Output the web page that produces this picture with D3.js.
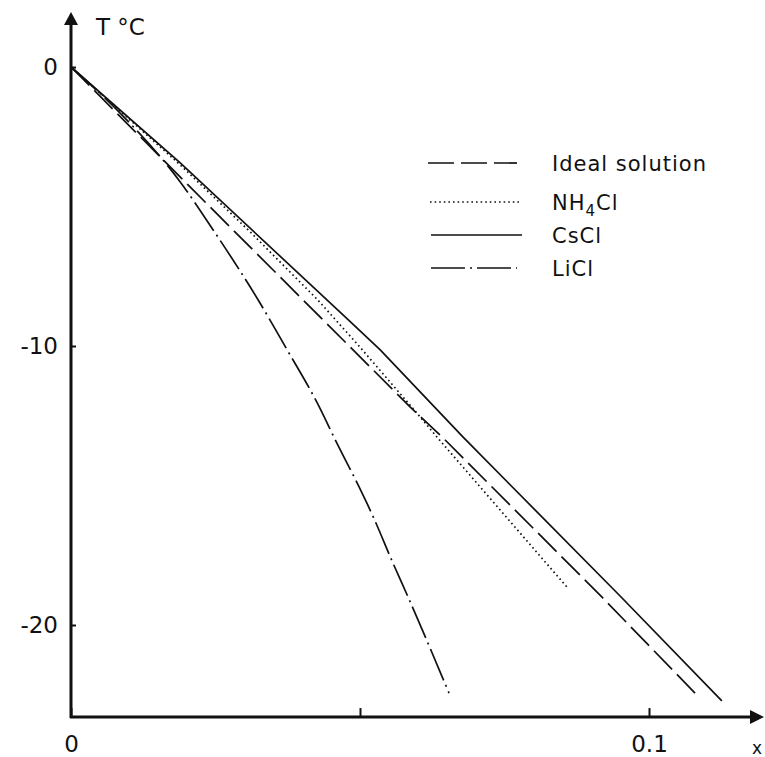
<!DOCTYPE html>
<html><head><meta charset="utf-8">
<script src="https://cdn.jsdelivr.net/npm/d3@7"></script>
<style>
body{margin:0;background:#fff}
svg{display:block}
text{font-family:"DejaVu Sans",sans-serif;fill:#111}
</style>
</head><body>
<svg id="c" width="765" height="757"></svg>
<script>
// ---- data ----
const xTicks = [0, 0.05, 0.1];
const xTickLabels = ["0", "", "0.1"];
const yTicks = [0, -10, -20];
const yTickLabels = ["0", "-10", "-20"];

const idealX = [0, 0.0206, 0.0488, 0.0587, 0.0644, 0.0920, 0.1088];
const idealT = [0, -4.30, -10.14, -12.19, -13.30, -19.03, -22.62];

const nh4clX = [0, 0.0189, 0.0310, 0.0427, 0.0500, 0.0604, 0.0633, 0.0858];
const nh4clT = [0, -3.51, -5.91, -8.35, -10.04, -12.54, -13.26, -18.64];

const csclX = [0, 0.0189, 0.0478, 0.0535, 0.0678, 0.0950, 0.1126];
const csclT = [0, -3.44, -9.03, -10.14, -13.26, -18.96, -22.72];

const liclX = [0, 0.0085, 0.0189, 0.0246, 0.0327, 0.0374, 0.0426, 0.0460, 0.0495, 0.0523, 0.0557, 0.0583, 0.0654];
const liclT = [0, -1.65, -4.12, -5.84, -8.46, -10.14, -12.04, -13.48, -14.91, -16.13, -17.78, -18.99, -22.44];

const seriesNames = ["Ideal solution", "NH4Cl", "CsCl", "LiCl"];

// ---- drawing ----
const svg = d3.select("#c");
const x = d3.scaleLinear().domain([0, 0.1]).range([71, 649]);
const y = d3.scaleLinear().domain([0, -20]).range([67, 625]);
const ink = "#111";

const series = [
  {name: seriesNames[0], xs: idealX, ts: idealT, dash: "26,7", curve: d3.curveLinear},
  {name: seriesNames[1], xs: nh4clX, ts: nh4clT, dash: "1.6,3", curve: d3.curveLinear},
  {name: seriesNames[2], xs: csclX, ts: csclT, dash: null, curve: d3.curveLinear},
  {name: seriesNames[3], xs: liclX, ts: liclT, dash: "34,5,2,5", curve: d3.curveMonotoneX}
];

series.forEach(s => {
  const pts = s.xs.map((v, i) => [v, s.ts[i]]);
  const line = d3.line().x(d => x(d[0])).y(d => y(d[1])).curve(s.curve);
  svg.append("path").attr("d", line(pts))
    .attr("fill", "none").attr("stroke", ink).attr("stroke-width", 1.7)
    .attr("stroke-dasharray", s.dash);
});

// axes
const yBottom = -23.3;
const yAxis = d3.axisLeft(y).tickValues(yTicks).tickSize(-5).tickPadding(13)
  .tickFormat((d, i) => yTickLabels[i]);
const gy = svg.append("g").attr("transform", `translate(${x(0)},0)`).call(yAxis);
gy.select(".domain").remove();
gy.selectAll("line").attr("stroke", ink).attr("stroke-width", 2);
gy.selectAll("text").attr("font-size", 23).attr("fill", ink)
  .attr("font-family", '"DejaVu Sans",sans-serif');

const xAxis = d3.axisBottom(x).tickValues(xTicks).tickSize(-9).tickPadding(19)
  .tickFormat((d, i) => xTickLabels[i]);
const gx = svg.append("g").attr("transform", `translate(0,${y(yBottom)})`).call(xAxis);
gx.select(".domain").remove();
gx.selectAll("line").attr("stroke", ink).attr("stroke-width", 2);
gx.selectAll("text").attr("font-size", 23).attr("fill", ink)
  .attr("font-family", '"DejaVu Sans",sans-serif');

const x0 = x(0), yb = y(yBottom);
svg.append("line").attr("x1", x0).attr("x2", x0).attr("y1", yb + 1).attr("y2", 22)
  .attr("stroke", ink).attr("stroke-width", 3);
svg.append("line").attr("x1", x0 - 1).attr("x2", 752).attr("y1", yb).attr("y2", yb)
  .attr("stroke", ink).attr("stroke-width", 3);
svg.append("path").attr("d", `M${x0},12 L${x0 - 7},25 L${x0 + 7},25 Z`).attr("fill", ink);
svg.append("path").attr("d", `M764,${yb} L750,${yb - 7} L750,${yb + 7} Z`).attr("fill", ink);

svg.append("text").attr("x", 96).attr("y", 35).attr("font-size", 23).text("T °C");
svg.append("text").attr("x", 757).attr("y", 754).attr("font-size", 17)
  .attr("text-anchor", "middle").text("x");

// legend
const legY = [163, 202, 235, 268];
const legX1 = [428, 430, 431, 431];
const legX2 = [517, 520, 522, 517];
series.forEach((s, i) => {
  svg.append("line").attr("x1", legX1[i]).attr("x2", legX2[i])
    .attr("y1", legY[i]).attr("y2", legY[i])
    .attr("stroke", ink).attr("stroke-width", 1.7).attr("stroke-dasharray", s.dash);
  const t = svg.append("text").attr("x", 552).attr("y", legY[i]).attr("dy", "0.36em")
    .attr("font-size", 21).attr("letter-spacing", 1);
  if (s.name === "NH4Cl") {
    t.append("tspan").text("NH");
    t.append("tspan").attr("font-size", 15).attr("dy", 6).text("4");
    t.append("tspan").attr("dy", -6).text("Cl");
  } else {
    t.text(s.name);
  }
});
</script>
</body></html>
